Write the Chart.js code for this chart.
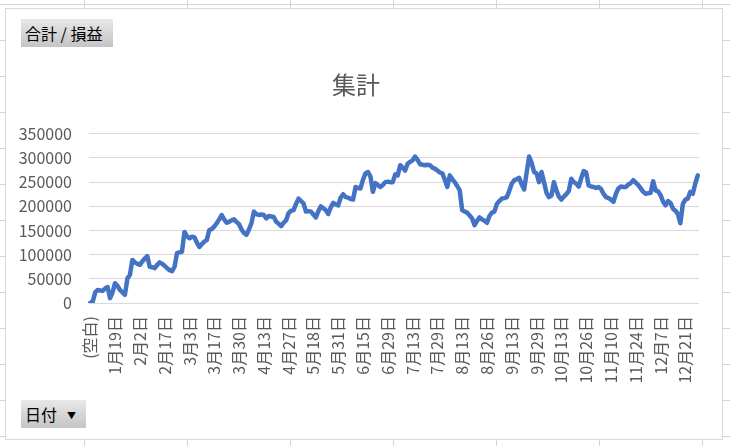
<!DOCTYPE html>
<html>
<head>
<meta charset="utf-8">
<script src="https://cdn.jsdelivr.net/npm/chart.js@4/dist/chart.umd.min.js"></script>
<style>
  body { margin: 0; width: 730px; height: 446px; overflow: hidden; position: relative; background: #fff;
         font-family: "Noto Sans CJK JP", "Noto Sans", sans-serif; }
  #cells { position: absolute; left: 0; top: 0; width: 730px; height: 446px;
    background-image:
      repeating-linear-gradient(to right, transparent 0, transparent 84px, #d4d4d4 84px, #d4d4d4 85px, transparent 85px, transparent 103px),
      repeating-linear-gradient(to bottom, transparent 0, transparent 4px, #d4d4d4 4px, #d4d4d4 5px, transparent 5px, transparent 36px);
  }
  #frame { position: absolute; left: 5px; top: 8px; width: 716px; height: 430px; background: #fff; border: 1px solid #d9d9d9; }
  canvas { position: absolute; left: 0; top: 0; }
  .btn { position: absolute; background: linear-gradient(#e8e8e8, #c4c4c4); color: #000; font-size: 16px;
         line-height: 28px; height: 28px; padding: 0 4px; box-sizing: border-box; white-space: nowrap; }
  #b1 { left: 21px; top: 19px; width: 92px; }
  #b2 { left: 21px; top: 400px; width: 65px; }
  #b2 .tri { font-size: 9px; margin-left: 10px; position: relative; top: -2px; }
</style>
</head>
<body>
<div id="cells"></div>
<div id="frame"></div>
<div class="btn" id="b1">合計 / 損益</div>
<div class="btn" id="b2">日付<span class="tri">▼</span></div>
<canvas id="chart" width="730" height="446"></canvas>
<script>
// categories: (空白) then trading days
const dates = ["(空白)",
  "1月5日","1月6日","1月7日","1月8日","1月12日","1月13日","1月14日","1月15日","1月18日","1月19日",
  "1月20日","1月21日","1月22日","1月25日","1月26日","1月27日","1月28日","1月29日","2月1日","2月2日",
  "2月3日","2月4日","2月5日","2月8日","2月9日","2月10日","2月12日","2月15日","2月16日","2月17日",
  "2月18日","2月19日","2月22日","2月23日","2月24日","2月25日","2月26日","3月1日","3月2日","3月3日",
  "3月4日","3月5日","3月8日","3月9日","3月10日","3月11日","3月12日","3月15日","3月16日","3月17日",
  "3月18日","3月19日","3月20日","3月22日","3月23日","3月24日","3月25日","3月26日","3月29日","3月30日",
  "3月31日","4月1日","4月2日","4月5日","4月6日","4月7日","4月8日","4月9日","4月12日","4月13日",
  "4月14日","4月15日","4月16日","4月19日","4月20日","4月21日","4月22日","4月23日","4月26日","4月27日",
  "4月28日","4月30日","5月6日","5月7日","5月10日","5月11日","5月12日","5月13日","5月14日","5月18日",
  "5月19日","5月20日","5月21日","5月22日","5月24日","5月25日","5月26日","5月27日","5月28日","5月31日",
  "6月1日","6月2日","6月3日","6月4日","6月7日","6月8日","6月9日","6月10日","6月11日","6月15日",
  "6月16日","6月17日","6月18日","6月21日","6月22日","6月23日","6月24日","6月25日","6月28日","6月29日",
  "6月30日","7月1日","7月2日","7月5日","7月6日","7月7日","7月8日","7月9日","7月12日","7月13日",
  "7月14日","7月15日","7月16日","7月19日","7月20日","7月21日","7月26日","7月27日","7月28日","7月29日",
  "7月30日","8月2日","8月3日","8月4日","8月5日","8月6日","8月10日","8月11日","8月12日","8月13日",
  "8月14日","8月16日","8月17日","8月18日","8月19日","8月20日","8月23日","8月24日","8月25日","8月26日",
  "8月27日","8月30日","8月31日","9月1日","9月2日","9月3日","9月6日","9月7日","9月10日","9月13日",
  "9月14日","9月15日","9月16日","9月17日","9月21日","9月22日","9月24日","9月27日","9月28日","9月29日",
  "9月30日","10月1日","10月4日","10月5日","10月6日","10月7日","10月8日","10月11日","10月12日","10月13日",
  "10月14日","10月15日","10月16日","10月18日","10月19日","10月20日","10月21日","10月22日","10月25日","10月26日",
  "10月27日","10月28日","10月29日","11月1日","11月2日","11月4日","11月5日","11月8日","11月9日","11月10日",
  "11月11日","11月12日","11月15日","11月16日","11月17日","11月18日","11月19日","11月20日","11月22日","11月24日",
  "11月25日","11月26日","11月27日","11月29日","11月30日","12月1日","12月2日","12月3日","12月6日","12月7日",
  "12月8日","12月9日","12月10日","12月13日","12月14日","12月15日","12月16日","12月17日","12月20日","12月21日",
  "12月22日","12月23日","12月24日","12月27日","12月28日"];

// cumulative profit/loss (合計 / 損益)
const profit = [
  0, 3000, 22000, 27000, 26000, 25000, 30000, 33000, 10000, 22000,
  41000, 35000, 27000, 22000, 17000, 51000, 58000, 89000, 84000, 81000,
  79000, 86000, 92000, 97000, 75000, 74000, 72000, 79000, 84000, 81000,
  77000, 72000, 68000, 66000, 75000, 103000, 105000, 106000, 147000, 138000,
  134000, 137000, 136000, 125000, 116000, 122000, 127000, 130000, 151000, 153000,
  158000, 165000, 173000, 182000, 173000, 166000, 168000, 171000, 173000, 168000,
  163000, 152000, 145000, 141000, 152000, 165000, 189000, 184000, 182000, 183000,
  182000, 175000, 180000, 179000, 178000, 168000, 164000, 159000, 166000, 171000,
  186000, 191000, 192000, 205000, 216000, 211000, 206000, 189000, 190000, 189000,
  183000, 177000, 190000, 200000, 196000, 192000, 184000, 198000, 207000, 204000,
  202000, 218000, 225000, 219000, 218000, 215000, 214000, 240000, 238000, 237000,
  255000, 268000, 271000, 262000, 230000, 248000, 244000, 240000, 244000, 250000,
  251000, 250000, 250000, 266000, 264000, 285000, 280000, 274000, 288000, 292000,
  295000, 303000, 296000, 287000, 286000, 285000, 286000, 285000, 280000, 278000,
  274000, 270000, 268000, 255000, 240000, 264000, 256000, 250000, 242000, 233000,
  192000, 189000, 187000, 181000, 175000, 161000, 170000, 177000, 173000, 170000,
  166000, 180000, 187000, 189000, 205000, 211000, 216000, 217000, 219000, 232000,
  247000, 254000, 256000, 259000, 245000, 235000, 270000, 303000, 290000, 271000,
  268000, 250000, 271000, 250000, 228000, 219000, 222000, 250000, 233000, 220000,
  214000, 220000, 225000, 232000, 257000, 250000, 247000, 241000, 258000, 273000,
  270000, 243000, 241000, 240000, 238000, 240000, 236000, 226000, 219000, 217000,
  214000, 209000, 226000, 237000, 241000, 240000, 240000, 245000, 248000, 254000,
  249000, 244000, 237000, 230000, 226000, 227000, 228000, 252000, 233000, 231000,
  223000, 210000, 202000, 211000, 207000, 195000, 191000, 184000, 165000, 205000,
  214000, 216000, 230000, 226000, 247000, 264000];

const yMax = 350000;
const yStep = 50000;
const labelEvery = 10;

const fontFamily = '"Noto Sans CJK JP", "Noto Sans", sans-serif';
const textColor = '#595959';
const gridColor = '#d9d9d9';

new Chart("chart", {
  type: "line",
  data: {
    labels: dates,
    datasets: [{
      label: "合計 / 損益",
      data: profit,
      borderColor: "#4472c4",
      borderWidth: 4.5,
      borderJoinStyle: "round",
      borderCapStyle: "round",
      pointRadius: 0,
      tension: 0,
      fill: false
    }]
  },
  options: {
    responsive: false,
    animation: false,
    layout: { padding: { left: 10, right: 28, top: 70, bottom: 40 } },
    plugins: {
      legend: { display: false },
      tooltip: { enabled: false },
      title: {
        display: true,
        text: "集計",
        color: textColor,
        font: { family: fontFamily, size: 24, weight: "normal" },
        padding: { top: 0, bottom: 35 }
      }
    },
    scales: {
      x: {
        offset: true,
        grid: { display: false, drawTicks: false },
        border: { display: false },
        ticks: {
          autoSkip: false,
          maxRotation: 90,
          minRotation: 90,
          padding: 13,
          color: textColor,
          font: { family: fontFamily, size: 16 },
          callback: function (val, i) { return i % labelEvery === 0 ? dates[i] : ""; }
        },
        afterFit: function (scale) { scale.height = 446 - 40 - 303; }
      },
      y: {
        min: 0,
        max: yMax,
        grid: { color: gridColor, lineWidth: 1, drawTicks: false },
        border: { display: false },
        ticks: {
          stepSize: yStep,
          padding: 17,
          color: textColor,
          font: { family: fontFamily, size: 16 },
          callback: function (v) { return String(v); }
        },
        afterFit: function (scale) { scale.width = 89 - 10; }
      }
    }
  }
});
</script>
</body>
</html>
